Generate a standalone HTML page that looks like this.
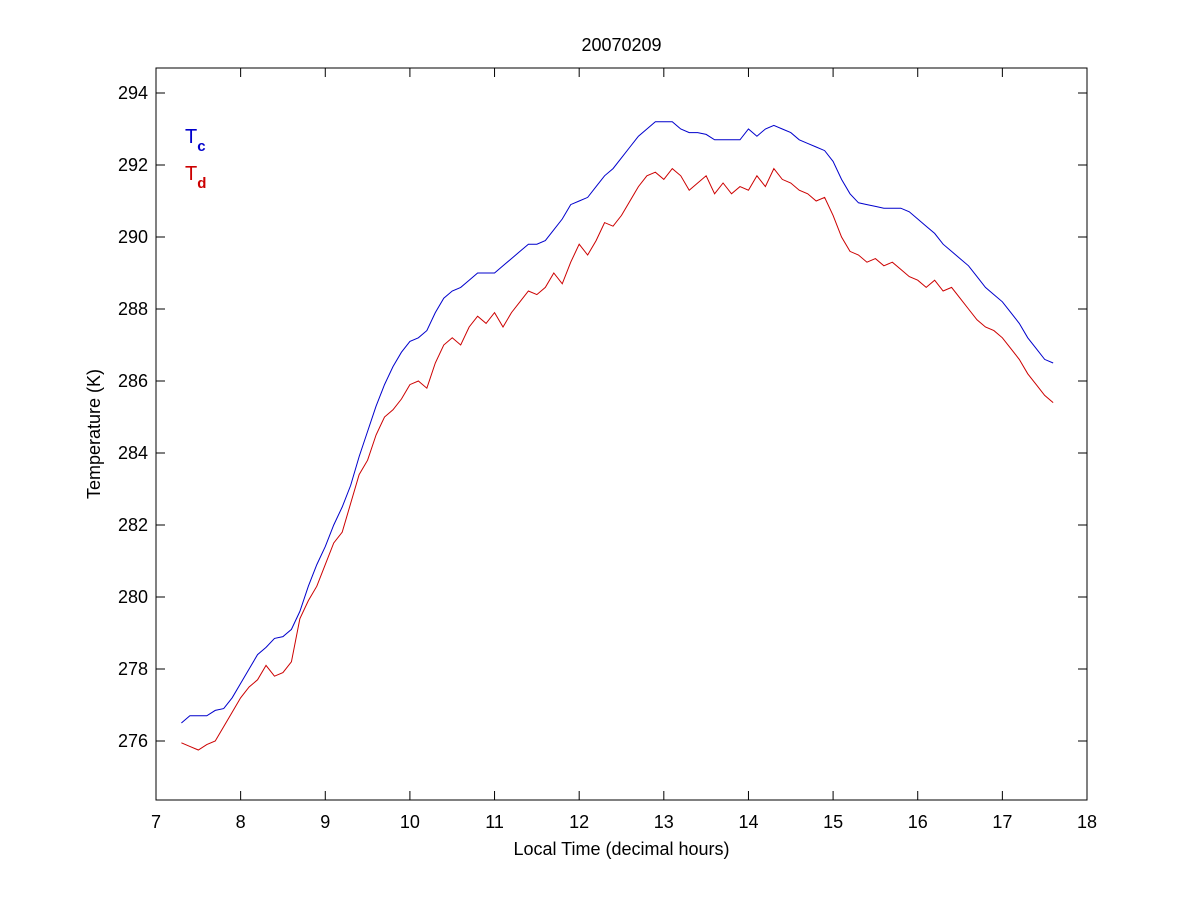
<!DOCTYPE html>
<html><head><meta charset="utf-8"><style>
body{margin:0;background:#fff;}
svg{display:block;font-family:"Liberation Sans",Arial,sans-serif;}
</style></head><body>
<svg id="chart" width="1200" height="900">
<rect x="0" y="0" width="1200" height="900" fill="#fff"/>
<g id="plot"></g>
</svg>
<script>
const xTicks=[7,8,9,10,11,12,13,14,15,16,17,18];
const yTicks=[276,278,280,282,284,286,288,290,292,294];
const tStart=7.3, tStep=0.1;
const tc=[276.5,276.7,276.7,276.7,276.85,276.9,277.2,277.6,278.0,278.4,278.6,278.85,278.9,279.1,279.6,280.3,280.9,281.4,282.0,282.5,283.1,283.9,284.6,285.3,285.9,286.4,286.8,287.1,287.2,287.4,287.9,288.3,288.5,288.6,288.8,289.0,289.0,289.0,289.2,289.4,289.6,289.8,289.8,289.9,290.2,290.5,290.9,291.0,291.1,291.4,291.7,291.9,292.2,292.5,292.8,293.0,293.2,293.2,293.2,293.0,292.9,292.9,292.85,292.7,292.7,292.7,292.7,293.0,292.8,293.0,293.1,293.0,292.9,292.7,292.6,292.5,292.4,292.1,291.6,291.2,290.95,290.9,290.85,290.8,290.8,290.8,290.7,290.5,290.3,290.1,289.8,289.6,289.4,289.2,288.9,288.6,288.4,288.2,287.9,287.6,287.2,286.9,286.6,286.5];
const td=[275.95,275.85,275.75,275.9,276.0,276.4,276.8,277.2,277.5,277.7,278.1,277.8,277.9,278.2,279.4,279.9,280.3,280.9,281.5,281.8,282.6,283.4,283.8,284.5,285.0,285.2,285.5,285.9,286.0,285.8,286.5,287.0,287.2,287.0,287.5,287.8,287.6,287.9,287.5,287.9,288.2,288.5,288.4,288.6,289.0,288.7,289.3,289.8,289.5,289.9,290.4,290.3,290.6,291.0,291.4,291.7,291.8,291.6,291.9,291.7,291.3,291.5,291.7,291.2,291.5,291.2,291.4,291.3,291.7,291.4,291.9,291.6,291.5,291.3,291.2,291.0,291.1,290.6,290.0,289.6,289.5,289.3,289.4,289.2,289.3,289.1,288.9,288.8,288.6,288.8,288.5,288.6,288.3,288.0,287.7,287.5,287.4,287.2,286.9,286.6,286.2,285.9,285.6,285.4];

const L=156,R=1087,T=68,B=800;
const X=v=>L+(v-7)*(R-L)/11;
const Y=v=>93+(294-v)*36;
const NS='http://www.w3.org/2000/svg';
const g=document.getElementById('plot');
function mk(tag,attrs,parent){const e=document.createElementNS(NS,tag);for(const k in attrs)e.setAttribute(k,attrs[k]);(parent||g).appendChild(e);return e;}

const frame=mk('rect',{x:L,y:T,width:R-L,height:B-T,fill:'none',stroke:'#000','stroke-width':1});



xTicks.forEach(v=>{
  const x=X(v);
  const a=mk('line',{x1:x,y1:B,x2:x,y2:B-9,stroke:'#000'});
  
  
  const b=mk('line',{x1:x,y1:T,x2:x,y2:T+9,stroke:'#000'});
  
  
  const t=mk('text',{x:x,y:B+28,'font-size':18,'text-anchor':'middle',fill:'#000'});
  t.textContent=v;
  
  
});
yTicks.forEach(v=>{
  const y=Y(v);
  const a=mk('line',{x1:L,y1:y,x2:L+9,y2:y,stroke:'#000'});
  
  
  const b=mk('line',{x1:R,y1:y,x2:R-9,y2:y,stroke:'#000'});
  
  
  const t=mk('text',{x:L-8,y:y+6,'font-size':18,'text-anchor':'end',fill:'#000'});
  t.textContent=v;
  
  
});

function line(arr,color,name){
  const d=arr.map((v,i)=>(i?'L':'M')+X(tStart+i*tStep).toFixed(2)+' '+Y(v).toFixed(2)).join(' ');
  const p=mk('path',{d:d,fill:'none',stroke:color,'stroke-width':1});
  
  
}
line(tc,'#0000cc','tc-line');
line(td,'#cc0000','td-line');

const title=mk('text',{x:(L+R)/2,y:51,'font-size':18,'text-anchor':'middle',fill:'#000'});
title.textContent='20070209';


const xl=mk('text',{x:(L+R)/2,y:855,'font-size':18,'text-anchor':'middle',fill:'#000'});
xl.textContent='Local Time (decimal hours)';


const yl=mk('text',{x:0,y:0,'font-size':18,'text-anchor':'middle',fill:'#000',transform:'translate(100,434) rotate(-90)'});
yl.textContent='Temperature (K)';



const lc=mk('text',{x:185,y:143,'font-size':20,fill:'#0000cc'});
lc.innerHTML='T<tspan font-size="15" font-weight="bold" dy="8">c</tspan>';


const ld=mk('text',{x:185,y:180,'font-size':20,fill:'#cc0000'});
ld.innerHTML='T<tspan font-size="15" font-weight="bold" dy="8">d</tspan>';


</script>
</body></html>
